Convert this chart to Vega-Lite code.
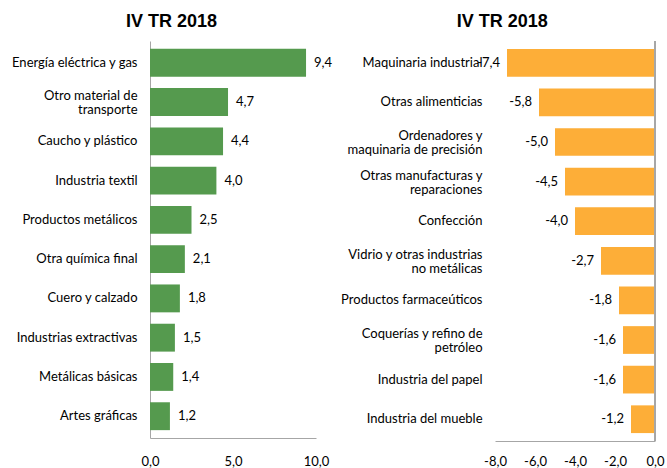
{
  "$schema": "https://vega.github.io/schema/vega-lite/v6.json",
  "background": "white",
  "padding": {"left": 10, "top": 12, "right": 5, "bottom": 5},
  "spacing": 179,
  "bounds": "flush",
  "config": {
    "locale": {"number": {"decimal": ",", "thousands": ".", "grouping": [3], "currency": ["", " €"], "minus": "-"}},
    "view": {"stroke": null},
    "font": "Lato",
    "title": {"font": "Liberation Sans", "fontSize": 18, "fontWeight": "bold", "color": "#000000", "offset": 10, "anchor": "middle", "frame": "bounds"},
    "axis": {"labelFont": "Lato", "labelFontSize": 13, "labelColor": "#000000", "domainColor": "#A6A6A6", "domainWidth": 1, "ticks": false, "grid": false, "title": null, "labelFlush": false, "labelOverlap": false}
  },
  "hconcat": [
    {
      "width": 166,
      "height": 397,
      "title": "IV TR 2018",
      "data": {"values": [
        {"sector": "Energía eléctrica y gas", "value": 9.4},
        {"sector": "Otro material de|transporte", "value": 4.7},
        {"sector": "Caucho y plástico", "value": 4.4},
        {"sector": "Industria textil", "value": 4.0},
        {"sector": "Productos metálicos", "value": 2.5},
        {"sector": "Otra química final", "value": 2.1},
        {"sector": "Cuero y calzado", "value": 1.8},
        {"sector": "Industrias extractivas", "value": 1.5},
        {"sector": "Metálicas básicas", "value": 1.4},
        {"sector": "Artes gráficas", "value": 1.2}
      ]},
      "encoding": {
        "y": {"field": "sector", "type": "nominal", "sort": null,
              "scale": {"paddingInner": 0.29, "paddingOuter": 0.2},
              "axis": {"labelExpr": "split(datum.label, '|')", "labelPadding": 13, "labelLineHeight": 14, "domain": true,
                       "labelOffset": {"condition": {"test": "indexof(datum.value, '|') >= 0", "value": -6}, "value": 0}}},
        "x": {"field": "value", "type": "quantitative", "scale": {"domain": [0, 10], "nice": false},
              "axis": {"values": [0, 5, 10], "format": ".1f", "labelPadding": 17, "labelOverlap": false, "labelFlush": false}}
      },
      "layer": [
        {"mark": {"type": "bar", "color": "#559A4E"}},
        {"mark": {"type": "text", "align": "left", "dx": 8, "fontSize": 13, "font": "Lato", "color": "#000000"},
         "encoding": {"text": {"field": "value", "type": "quantitative", "format": ".1f"}}}
      ]
    },
    {
      "width": 160,
      "height": 400,
      "title": "IV TR 2018",
      "data": {"values": [
        {"sector": "Maquinaria industrial", "value": -7.4},
        {"sector": "Otras alimenticias", "value": -5.8},
        {"sector": "Ordenadores y|maquinaria de precisión", "value": -5.0},
        {"sector": "Otras manufacturas y|reparaciones", "value": -4.5},
        {"sector": "Confección", "value": -4.0},
        {"sector": "Vidrio y otras industrias|no metálicas", "value": -2.7},
        {"sector": "Productos farmaceúticos", "value": -1.8},
        {"sector": "Coquerías y refino de|petróleo", "value": -1.6},
        {"sector": "Industria del papel", "value": -1.6},
        {"sector": "Industria del mueble", "value": -1.2}
      ]},
      "encoding": {
        "y": {"field": "sector", "type": "nominal", "sort": null,
              "scale": {"paddingInner": 0.3, "paddingOuter": 0.2},
              "axis": {"labelExpr": "split(datum.label, '|')", "labelPadding": 13, "labelLineHeight": 14, "domain": false,
                       "labelOffset": {"condition": {"test": "indexof(datum.value, '|') >= 0", "value": -6}, "value": 0}}},
        "x": {"field": "value", "type": "quantitative", "scale": {"domain": [-8, 0], "nice": false},
              "axis": {"values": [-8, -6, -4, -2, 0], "format": ".1f", "labelPadding": 14, "labelOverlap": false, "labelFlush": false}}
      },
      "layer": [
        {"mark": {"type": "bar", "color": "#FDAE38"}},
        {"mark": {"type": "text", "align": "right", "dx": -7, "fontSize": 13, "font": "Lato", "color": "#000000"},
         "encoding": {"text": {"field": "value", "type": "quantitative", "format": ".1f"}}},
        {
          "mark": {"type": "rule", "color": "#A6A6A6", "strokeWidth": 1},
          "encoding": {
            "x": {"datum": 0, "type": "quantitative",
                  "axis": {"values": [-8, -6, -4, -2, 0], "format": ".1f", "labelPadding": 14, "labelOverlap": false, "labelFlush": false}},
            "y": {"value": 0},
            "y2": {"value": 400}
          }
        }
      ]
    }
  ]
}
